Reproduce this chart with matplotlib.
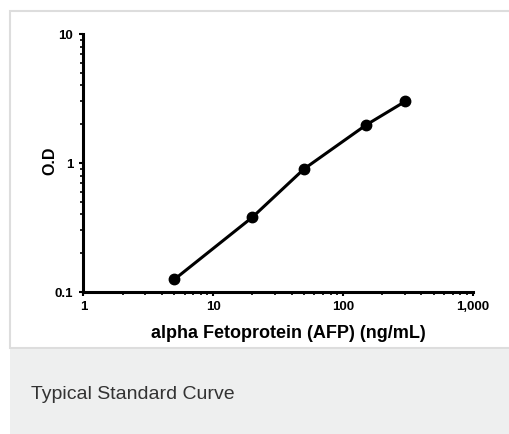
import matplotlib.pyplot as plt
from matplotlib.patches import Rectangle
from matplotlib.ticker import FixedLocator, FixedFormatter, LogLocator, NullFormatter

# standard curve values
conc = [5, 20, 50, 150, 300]
od = [0.125, 0.38, 0.9, 1.97, 3.0]

x_ticks = [1, 10, 100, 1000]
x_labels = ['1', '10', '100', '1,000']
y_ticks = [0.1, 1, 10]
y_labels = ['0.1', '1', '10']

plt.rcParams['font.family'] = ['Liberation Sans', 'DejaVu Sans']

fig = plt.figure(figsize=(5.10, 4.35), dpi=100)

# card frame and caption band (behind the axes)
fig.patches.append(Rectangle((10 / 510, 1 - 349 / 435), 1, (349 - 12) / 435,
                             transform=fig.transFigure, facecolor='white',
                             edgecolor='#dddddd', linewidth=1.5, zorder=-2))
fig.patches.append(Rectangle((10 / 510, 0), 1, 1 - 349 / 435 - 0.002,
                             transform=fig.transFigure, facecolor='#eeefef',
                             edgecolor='none', zorder=-2))
fig.text(31 / 510, 1 - 399 / 435, 'Typical Standard Curve', fontsize=14,
         color='#333333', va='baseline', ha='left')

ax = fig.add_axes([83.5 / 510, 1 - 293 / 435, (473 - 83.5) / 510, (293 - 35) / 435])
ax.patch.set_alpha(0)
ax.plot(conc, od, color='black', linewidth=2.2, marker='o', markersize=7.5,
        solid_capstyle='round', clip_on=False)

ax.set_xscale('log')
ax.set_yscale('log')
ax.set_xlim(1, 1000)
ax.set_ylim(0.1, 10)

ax.xaxis.set_major_locator(FixedLocator(x_ticks))
ax.xaxis.set_major_formatter(FixedFormatter(x_labels))
ax.yaxis.set_major_locator(FixedLocator(y_ticks))
ax.yaxis.set_major_formatter(FixedFormatter(y_labels))
ax.xaxis.set_minor_locator(LogLocator(base=10, subs=range(2, 10)))
ax.yaxis.set_minor_locator(LogLocator(base=10, subs=range(2, 10)))
ax.xaxis.set_minor_formatter(NullFormatter())
ax.yaxis.set_minor_formatter(NullFormatter())

for side in ['top', 'right']:
    ax.spines[side].set_visible(False)
for side in ['left', 'bottom']:
    ax.spines[side].set_linewidth(2.2)

ax.tick_params(which='major', direction='out', length=3, width=1.5)
ax.tick_params(axis='x', which='major', pad=3)
ax.tick_params(axis='y', which='major', pad=4.5)
ax.tick_params(which='minor', direction='out', length=2, width=1.2)
for lab in ax.get_xticklabels() + ax.get_yticklabels():
    lab.set_fontsize(9.5)
    lab.set_fontweight('bold')

ax.set_xlabel('alpha Fetoprotein (AFP) (ng/mL)', fontsize=13, fontweight='bold')
ax.set_ylabel('O.D', fontsize=11.5, fontweight='bold')
ax.xaxis.set_label_coords(0.526, -0.124)
ax.yaxis.set_label_coords(-0.068, 0.512)

fig.savefig('out.png', dpi=100)
